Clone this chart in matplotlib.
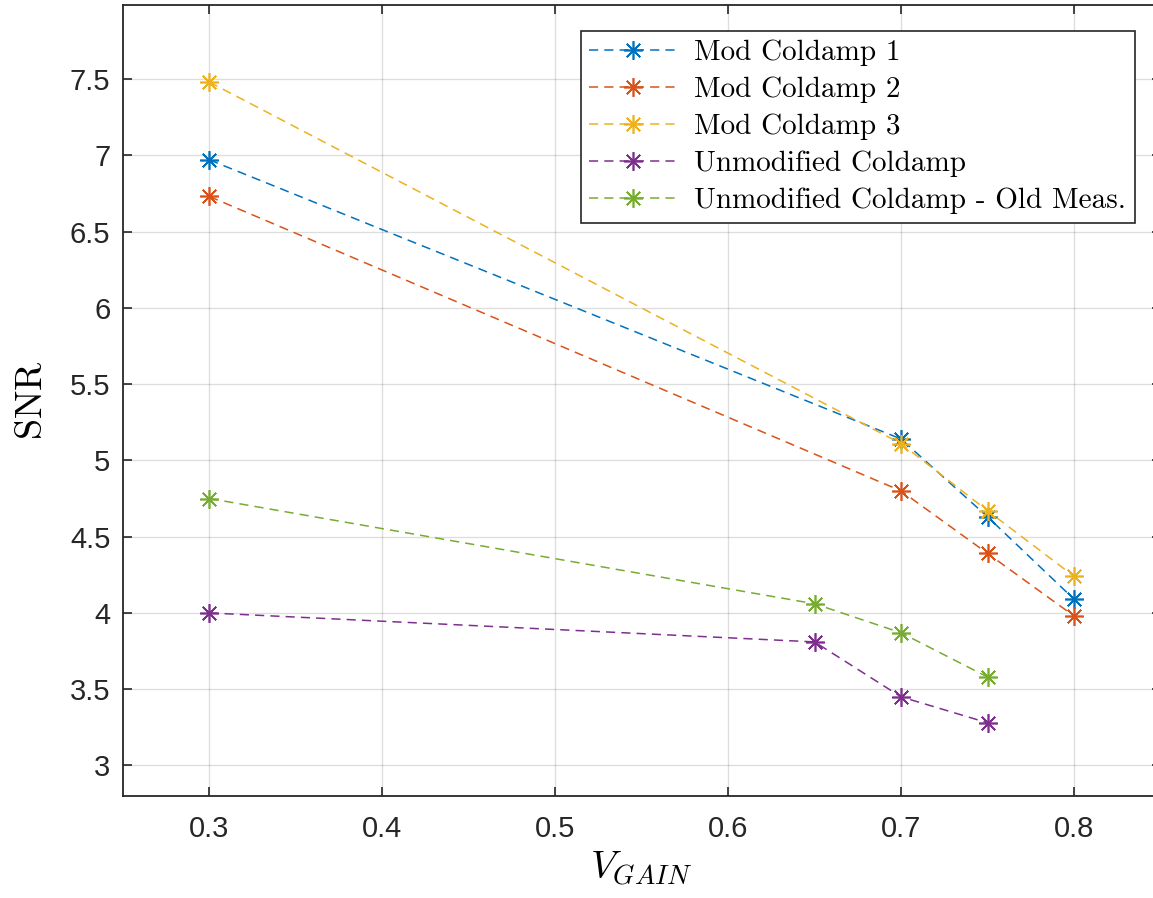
import matplotlib
matplotlib.use('Agg')
import matplotlib.pyplot as plt
from matplotlib.ticker import FuncFormatter

plt.rcParams['mathtext.fontset'] = 'cm'
plt.rcParams['font.family'] = ['Liberation Sans', 'DejaVu Sans']

# Data
v_mod = [0.3, 0.7, 0.75, 0.8]
snr_mod1 = [6.97, 5.14, 4.63, 4.09]
snr_mod2 = [6.73, 4.80, 4.39, 3.98]
snr_mod3 = [7.48, 5.11, 4.67, 4.24]

v_unmod = [0.3, 0.65, 0.7, 0.75]
snr_unmod = [4.00, 3.81, 3.45, 3.28]
snr_unmod_old = [4.75, 4.06, 3.87, 3.58]

labels = ['Mod Coldamp 1', 'Mod Coldamp 2', 'Mod Coldamp 3',
          'Unmodified Coldamp', 'Unmodified Coldamp - Old Meas.']
colors = ['#0072BD', '#D95319', '#EDB120', '#7E2F8E', '#77AC30']

x_ticks = [0.3, 0.4, 0.5, 0.6, 0.7, 0.8]
y_ticks = [3, 3.5, 4, 4.5, 5, 5.5, 6, 6.5, 7, 7.5]

W, H = 1153, 898
fig = plt.figure(figsize=(W / 100, H / 100), dpi=100)
ax = fig.add_axes([122.8 / W, (H - 796) / H, 1037.7 / W, 791 / H])

series = [(v_mod, snr_mod1), (v_mod, snr_mod2), (v_mod, snr_mod3),
          (v_unmod, snr_unmod), (v_unmod, snr_unmod_old)]
for (x, y), lab, c in zip(series, labels, colors):
    ax.plot(x, y, color=c, linestyle=(0, (6, 4)), linewidth=1.1,
            marker=(8, 2, 0), markersize=13.5, markeredgewidth=1.2,
            label=lab)

ax.set_xlim(0.25, 0.85)
ax.set_ylim(2.8, 7.985)
ax.set_xticks(x_ticks)
ax.set_yticks(y_ticks)
ax.xaxis.set_major_formatter(FuncFormatter(lambda v, p: f'{v:g}'))
ax.yaxis.set_major_formatter(FuncFormatter(lambda v, p: f'{v:g}'))

ax.grid(True, color='#000000', alpha=0.13, linewidth=1.0)
ax.set_axisbelow(True)
ax.tick_params(direction='in', length=6.5, width=1.2, colors='#262626',
               labelsize=21, top=True, right=True)
ax.tick_params(axis='x', pad=14)
ax.tick_params(axis='y', pad=9)
for s in ax.spines.values():
    s.set_color('#262626')
    s.set_linewidth(1.3)

ax.set_xlabel(r'$V_{GAIN}$', fontsize=28, labelpad=4)
ax.set_ylabel(r'$\mathrm{SNR}$', fontsize=27.5, labelpad=14)

leg = ax.legend(loc='upper right', bbox_to_anchor=(1135 / W, 1 - 31 / H),
                bbox_transform=fig.transFigure, borderaxespad=0,
                prop={'family': 'cmr10', 'size': 21},
                handlelength=3.0, handletextpad=0.6,
                borderpad=0.3, labelspacing=0.36, fancybox=False,
                framealpha=1, edgecolor='#262626')
leg.get_frame().set_linewidth(1.2)

fig.savefig('out.png', dpi=100)
